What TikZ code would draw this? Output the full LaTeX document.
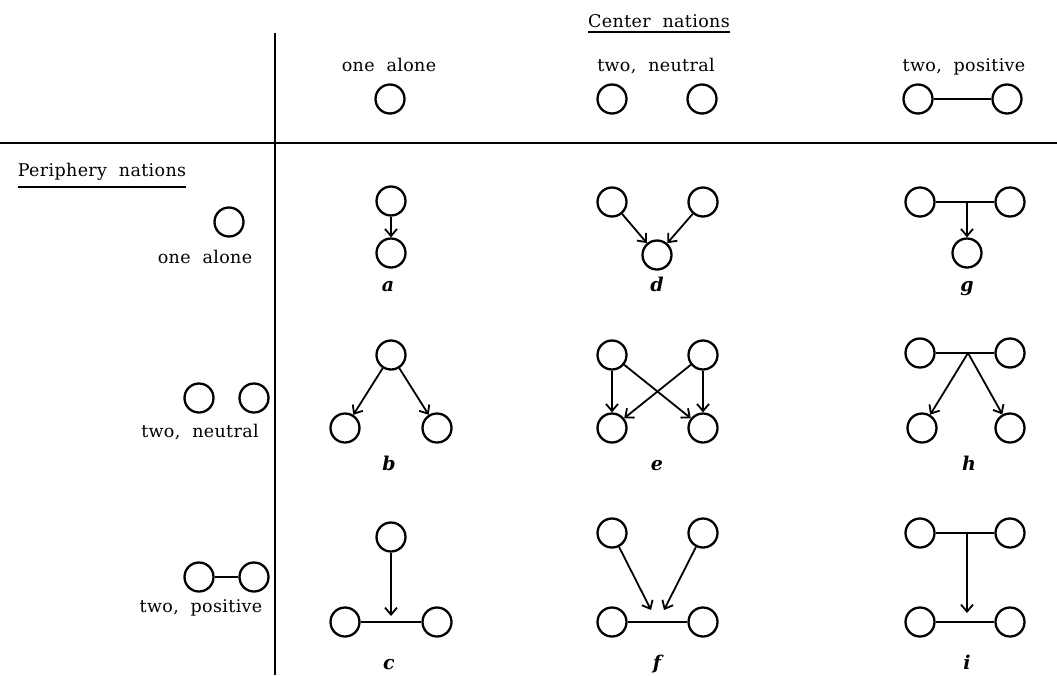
\documentclass[tikz,border=0pt]{standalone}
\usepackage{fontspec}
\setmainfont{DejaVu Serif}[LetterSpace=2,WordSpace=2]
\usetikzlibrary{arrows.meta,calc}
\begin{document}
\begin{tikzpicture}[x=1pt,y=-1pt,
  nat/.style={circle,draw,line width=2.3pt,minimum size=29pt,inner sep=0pt},
  arr/.style={line width=1.8pt,-{Straight Barb[length=7pt,width=12pt]}},
  tie/.style={line width=2pt},
  txt/.style={font=\fontsize{17.5}{20}\selectfont,inner sep=0pt,anchor=base},
  lab/.style={font=\fontsize{19}{20}\selectfont\bfseries\itshape,inner sep=0pt,anchor=base},
  rulev/.style={line width=1.6pt},
  ruleh/.style={line width=2.4pt},
  uline/.style={line width=2pt}]
\useasboundingbox (0,0) rectangle (1057,675);
% frame lines
\coordinate (vt) at (275,33);
\coordinate (vb) at (275,675);
\coordinate (hl) at (0,143);
\coordinate (hr) at (1057,143);
\draw[rulev] (vt) -- (vb);
\draw[ruleh] (hl) -- (hr);
% headers
\node[txt] (cn) at (659,27) {Center nations};
\draw[uline] ($(cn.base west)+(0,5)$) -- ($(cn.base east)+(0,5)$);
\node[txt] (h1) at (389,71) {one alone};
\node[nat] (h1a) at (390,99) {};
\node[txt] (h2) at (656,71) {two, neutral};
\node[nat] (h2a) at (612,99) {};
\node[nat] (h2b) at (702,99) {};
\node[txt] (h3) at (964,71) {two, positive};
\node[nat] (h3a) at (918,99) {};
\node[nat] (h3b) at (1007,99) {};
\draw[tie] (h3a) -- (h3b);
% periphery
\node[txt] (pn) at (102,176) {Periphery nations};
\draw[uline] ($(pn.base west)+(0,11)$) -- ($(pn.base east)+(0,11)$);
\node[nat] (r1a) at (229,222) {};
\node[txt] (r1) at (205,263) {one alone};
\node[nat] (r2a) at (199,398) {};
\node[nat] (r2b) at (254,398) {};
\node[txt] (r2) at (200,437) {two, neutral};
\node[nat] (r3a) at (199,577) {};
\node[nat] (r3b) at (254,577) {};
\draw[tie] (r3a) -- (r3b);
\node[txt] (r3) at (201,612) {two, positive};
% a
\node[nat] (a1) at (391,201) {};
\node[nat] (a2) at (391,253) {};
\draw[arr] (a1) -- (a2);
\node[lab] (la) at (388,291) {a};
% b
\node[nat] (b1) at (391,355) {};
\node[nat] (b2) at (345,428) {};
\node[nat] (b3) at (437,428) {};
\draw[arr] (b1) -- (b2);
\draw[arr] (b1) -- (b3);
\node[lab] (lb) at (389,470) {b};
% c
\node[nat] (c1) at (391,537) {};
\node[nat] (c2) at (345,622) {};
\node[nat] (c3) at (437,622) {};
\draw[tie] (c2) -- (c3);
\coordinate (cm) at (391,616);
\draw[arr] (c1) -- (cm);
\node[lab] (lc) at (389,669) {c};
% d
\node[nat] (d1) at (612,202) {};
\node[nat] (d2) at (703,202) {};
\node[nat] (d3) at (657,255) {};
\draw[arr] (d1) -- (d3);
\draw[arr] (d2) -- (d3);
\node[lab] (ld) at (657,291) {d};
% e
\node[nat] (e1) at (612,355) {};
\node[nat] (e2) at (703,355) {};
\node[nat] (e3) at (612,428) {};
\node[nat] (e4) at (703,428) {};
\draw[arr] (e1) -- (e3);
\draw[arr] (e1) -- (e4);
\draw[arr] (e2) -- (e3);
\draw[arr] (e2) -- (e4);
\node[lab] (le) at (657,470) {e};
% f
\node[nat] (f1) at (612,533) {};
\node[nat] (f2) at (703,533) {};
\node[nat] (f3) at (612,622) {};
\node[nat] (f4) at (703,622) {};
\draw[tie] (f3) -- (f4);
\coordinate (fa) at (651,610);
\coordinate (fb) at (664,610);
\draw[arr] (f1) -- (fa);
\draw[arr] (f2) -- (fb);
\node[lab] (lf) at (657,669) {f};
% g
\node[nat] (g1) at (920,202) {};
\node[nat] (g2) at (1010,202) {};
\node[nat] (g3) at (967,253) {};
\draw[tie] (g1) -- (g2);
\coordinate (gm) at (967,202);
\draw[arr] (gm) -- (g3);
\node[lab] (lg) at (967,291) {g};
% h
\node[nat] (h1n) at (920,353) {};
\node[nat] (h2n) at (1010,353) {};
\node[nat] (h3n) at (922,428) {};
\node[nat] (h4n) at (1010,428) {};
\draw[tie] (h1n) -- (h2n);
\coordinate (hm) at (968,353);
\draw[arr] (hm) -- (h3n);
\draw[arr] (hm) -- (h4n);
\node[lab] (lh) at (969,470) {h};
% i
\node[nat] (i1) at (920,533) {};
\node[nat] (i2) at (1010,533) {};
\node[nat] (i3) at (920,622) {};
\node[nat] (i4) at (1010,622) {};
\draw[tie] (i1) -- (i2);
\draw[tie] (i3) -- (i4);
\coordinate (im) at (967,533);
\coordinate (ib) at (967,613);
\draw[arr] (im) -- (ib);
\node[lab] (li) at (967,669) {i};
\end{tikzpicture}
\end{document}
